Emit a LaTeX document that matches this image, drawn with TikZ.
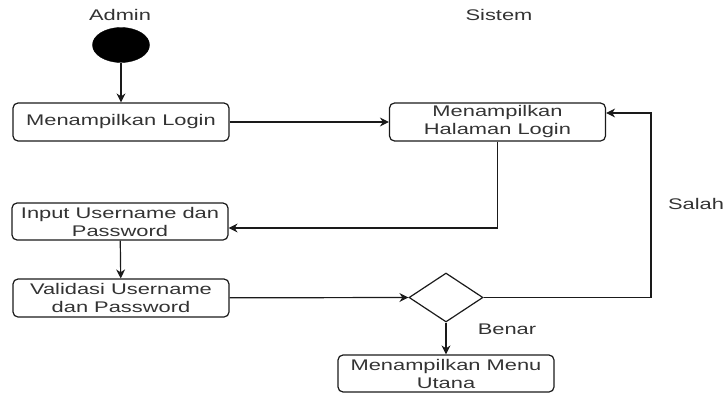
\documentclass[tikz,border=0pt]{standalone}
\usepackage{fontspec}
\setmainfont{Liberation Sans}[FakeStretch=1.42]
\usetikzlibrary{arrows.meta,shapes.geometric}
\definecolor{txt}{HTML}{333333}
\definecolor{ln}{HTML}{1A1A1A}
\tikzset{
  act/.style={draw=ln, line width=1.2pt, rounded corners=5pt, minimum width=216pt, minimum height=38pt, inner sep=0pt, align=center, text=txt, font=\fontsize{15.4}{18}\selectfont},
  lbl/.style={text=txt, inner sep=0pt, font=\fontsize{15.4}{18}\selectfont},
  arr/.style={draw=ln, line width=1.2pt, -{Stealth[length=9pt,width=9pt]}},
  ln0/.style={draw=ln, line width=1.2pt},
}
\begin{document}
\begin{tikzpicture}[x=1pt,y=-1pt]
\useasboundingbox (0,0) rectangle (728,396);
\node[lbl] (admin) at (120,15) {Admin};
\node[lbl] (sistem) at (499,15) {Sistem};
\node[draw=black, fill=black, ellipse, minimum width=57pt, minimum height=35pt, inner sep=0pt] (start) at (121,45) {};
\node[act] (b1) at (121,122) {Menampilkan Login};
\node[act] (b2) at (497.5,122) {Menampilkan\\Halaman Login};
\node[act, minimum height=37pt] (b3) at (120,221.5) {Input Username dan\\Password};
\node[act] (b4) at (121,298) {Validasi Username\\dan Password};
\node[draw=ln, line width=1.2pt, diamond, minimum width=74pt, minimum height=49pt, inner sep=0pt, aspect=1.5] (d) at (446,297.5) {};
\node[act, minimum height=37pt] (b5) at (446,373.5) {Menampilkan Menu\\Utana};
\node[lbl] (salah) at (696,204) {Salah};
\node[lbl] (benar) at (507,329) {Benar};
\coordinate (c1) at (651,113);
\coordinate (c2) at (497.5,228);
\draw[arr] (start) -- (b1);
\draw[arr] (b1) -- (b2);
\draw[arr] (b2.south) -- (c2) -- (c2 -| b3.east);
\draw[arr] (b3) -- (b4);
\draw[arr] (b4) -- (d.west);
\draw[arr] (d.east) -| (c1) -- (c1 -| b2.east);
\draw[arr] (d.south) -- (b5);
\end{tikzpicture}
\end{document}
